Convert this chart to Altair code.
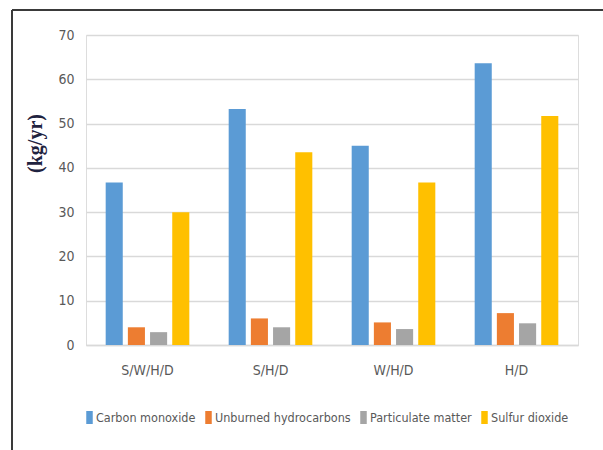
import altair as alt
import pandas as pd

# Annual emissions per system configuration (kg/yr)
configs = ["S/W/H/D", "S/H/D", "W/H/D", "H/D"]
pollutants = ["Carbon monoxide", "Unburned hydrocarbons", "Particulate matter", "Sulfur dioxide"]
carbon_monoxide = [36.7, 53.3, 45.0, 63.6]
unburned_hydrocarbons = [4.0, 6.0, 5.1, 7.2]
particulate_matter = [2.9, 4.0, 3.6, 4.9]
sulfur_dioxide = [30.0, 43.5, 36.7, 51.7]
colors = ["#5B9BD5", "#ED7D31", "#A5A5A5", "#FFC000"]

series = [carbon_monoxide, unburned_hydrocarbons, particulate_matter, sulfur_dioxide]
rows = []
for name, vals in zip(pollutants, series):
    for cfg, v in zip(configs, vals):
        rows.append({"config": cfg, "pollutant": name, "value": v})
df = pd.DataFrame(rows)

FONT = "DejaVu Sans Condensed, Liberation Sans"

bars = alt.Chart(df).mark_bar().encode(
    x=alt.X(
        "config:N",
        sort=configs,
        scale=alt.Scale(paddingInner=0.32, paddingOuter=0.16),
        axis=alt.Axis(
            title=None, labelAngle=0, ticks=False, domainColor="#D9D9D9",
            domainWidth=1.5, labelFontSize=14, labelFont=FONT,
            labelColor="#595959", labelPadding=18,
        ),
    ),
    xOffset=alt.XOffset(
        "pollutant:N", sort=pollutants,
        scale=alt.Scale(paddingInner=0.23, paddingOuter=0),
    ),
    y=alt.Y(
        "value:Q",
        scale=alt.Scale(domain=[0, 70], nice=False),
        axis=alt.Axis(
            title="(kg/yr)", values=list(range(0, 71, 10)), ticks=False,
            domain=False, gridColor="#D9D9D9", gridWidth=1.5,
            labelFontSize=14, labelFont=FONT, labelColor="#595959",
            labelPadding=12, titleFont="Liberation Serif", titleFontSize=20,
            titleFontWeight="bold", titleColor="#1F2340", titleX=-51,
            titleY=108, titleAlign="center", titleBaseline="middle",
        ),
    ),
    color=alt.Color(
        "pollutant:N", sort=pollutants,
        scale=alt.Scale(domain=pollutants, range=colors),
        legend=alt.Legend(
            title=None, orient="none", legendX=-3, legendY=376,
            direction="horizontal", columns=4, columnPadding=6,
            symbolType="M-0.5,-1L0.5,-1L0.5,1L-0.5,1Z", symbolSize=169,
            symbolStrokeWidth=0, labelFont=FONT, labelFontSize=12.5,
            labelColor="#595959", labelOffset=0, labelLimit=300,
        ),
    ),
)

# Page frame along the top and left edges
frame_top = alt.Chart(df).mark_rule(color="#3A3A3A", strokeWidth=2).encode(
    x=alt.value(-74), x2=alt.value(517), y=alt.value(-25)
)
frame_left = alt.Chart(df).mark_rule(color="#3A3A3A", strokeWidth=2).encode(
    x=alt.value(-74), y=alt.value(-25), y2=alt.value(415)
)

chart = alt.layer(bars, frame_top, frame_left).properties(
    width=492,
    height=310,
    autosize=alt.AutoSizeParams(type="none"),
    padding={"left": 86, "top": 35, "right": 25, "bottom": 105},
).configure_view(stroke=None).configure(background="white")

chart.save("out.html", embed_options={"renderer": "svg", "actions": False})
